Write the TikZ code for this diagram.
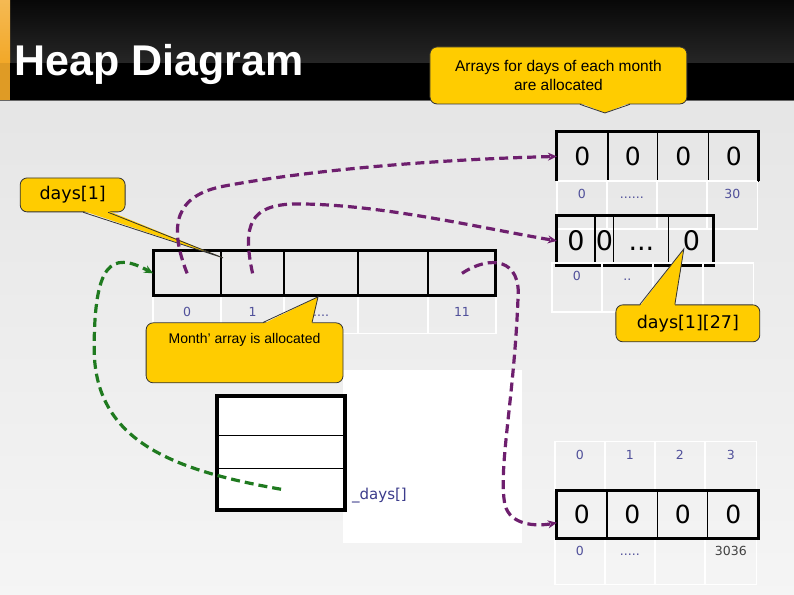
\documentclass[tikz,border=0pt]{standalone}
\usepackage{fontspec}
\setmainfont{Liberation Sans}
\newfontfamily\dvsans{DejaVu Sans}
\usetikzlibrary{arrows.meta,positioning}
\definecolor{hdYellow}{HTML}{FFCC00}
\definecolor{hdPurple}{HTML}{6E1F6E}
\definecolor{hdGreen}{HTML}{1F7A1F}
\definecolor{hdIndex}{HTML}{50509A}
\definecolor{hdVar}{HTML}{3C3C8C}
\definecolor{hdOrange}{HTML}{F2A828}

\begin{document}
\begin{tikzpicture}[x=1pt, y=-1pt,
     cell/.style={draw, line width=1.2pt, inner sep=0pt, outer sep=0pt, minimum height=49pt,
                  text height=18pt, text depth=0pt, font=\dvsans\fontsize{25}{25}\selectfont},
     bigcell/.style={cell, minimum height=50pt, text height=19.5pt,
                     font=\dvsans\fontsize{27}{27}\selectfont},
     idx/.style={draw=white, line width=1.3pt, inner sep=0pt, outer sep=0pt,
                 text height=18pt, text depth=30pt, text=hdIndex,
                 font=\dvsans\fontsize{12.5}{12.5}\selectfont},
     stackcell/.style={draw, fill=white, line width=1.2pt, inner sep=0pt, outer sep=0pt,
                       minimum width=128pt},
     frame/.style={line width=3pt},
     callout/.style={fill=hdYellow, draw=black!80, line width=0.8pt, rounded corners=7pt,
                     inner sep=4pt, align=center},
     pointer/.style={draw=black!80, line width=0.8pt},
     heapref/.style={draw=hdPurple, line width=3.2pt, dash pattern=on 9pt off 5pt,
                     -{Stealth[length=9pt, width=8pt]}},
     stackref/.style={heapref, draw=hdGreen}]

     % slide background and title bar
     \shade[top color=black!10, bottom color=black!4] (0,100) rectangle (794,595);
     \fill[black] (0,0) rectangle (794,100);
     \shade[top color=black!97, bottom color=black!85] (0,0) rectangle (794,63);
     \shade[top color=hdOrange!80, bottom color=hdOrange] (0,0) rectangle (10,63);
     \fill[hdOrange!92!black] (0,63) rectangle (10,100);
     \draw[black!60] (0,100) -- (794,100);
     \node[anchor=base west, inner sep=0pt, text=white, font=\bfseries\fontsize{43}{43}\selectfont]
          (title) at (14,76) {Heap Diagram};

     % white panel behind the stack
     \fill[white] (343,370) rectangle (522,543);

     % days[0] array
     \node[cell, anchor=north west, minimum width=51pt] (a0) at (557,132) {0};
     \node[cell, minimum width=50pt, right=0pt of a0] (a1) {0};
     \node[cell, minimum width=51pt, right=0pt of a1] (a2) {0};
     \node[cell, minimum width=50pt, right=0pt of a2] (a3) {0};
     \node[idx, anchor=north west, minimum width=50pt] (ia0) at (557,181) {0};
     \node[idx, minimum width=50pt, right=0pt of ia0] (ia1) {......};
     \node[idx, minimum width=50pt, right=0pt of ia1] (ia2) {};
     \node[idx, minimum width=51pt, right=0pt of ia2] (ia3) {30};
     \draw[frame] (a0.south west) -- (a0.north west) -- (a3.north east) -- (a3.south east);

     % days[1] array
     \node[bigcell, anchor=north west, minimum width=38pt] (b0) at (557,216) {0};
     \node[bigcell, minimum width=19pt, right=0pt of b0] (b1) {0};
     \node[bigcell, minimum width=55pt, right=0pt of b1] (b2) {...};
     \node[bigcell, minimum width=45pt, right=0pt of b2] (b3) {0};
     \draw[frame] (b0.north west) rectangle (b3.south east);
     \node[idx, anchor=north west, minimum width=50pt, text depth=31pt] (ib0) at (552,263) {0};
     \node[idx, minimum width=51pt, text depth=31pt, right=0pt of ib0] (ib1) {..};
     \node[idx, minimum width=50pt, text depth=31pt, right=0pt of ib1] (ib2) {7};
     \node[idx, minimum width=51pt, text depth=31pt, right=0pt of ib2] (ib3) {};

     % months array
     \node[idx, anchor=north west, minimum width=68pt, text height=21pt, text depth=17pt] (im0) at (153,296) {0};
     \node[idx, minimum width=63pt, text height=21pt, text depth=17pt, right=0pt of im0] (im1) {1};
     \node[idx, minimum width=74pt, text height=21pt, text depth=17pt, right=0pt of im1] (im2) {....};
     \node[idx, minimum width=70pt, text height=21pt, text depth=17pt, right=0pt of im2] (im3) {};
     \node[idx, minimum width=68pt, text height=21pt, text depth=17pt, right=0pt of im3] (im4) {11};
     \node[cell, anchor=north west, minimum width=68pt, minimum height=45pt] (m0) at (153,251) {};
     \node[cell, minimum width=63pt, minimum height=45pt, right=0pt of m0] (m1) {};
     \node[cell, minimum width=74pt, minimum height=45pt, right=0pt of m1] (m2) {};
     \node[cell, minimum width=70pt, minimum height=45pt, right=0pt of m2] (m3) {};
     \node[cell, minimum width=68pt, minimum height=45pt, right=0pt of m3] (m4) {};
     \draw[frame] (m0.north west) rectangle (m4.south east);

     % days[11] array
     \node[idx, anchor=north west, minimum width=50pt, text depth=31pt] (ic0) at (555,442) {0};
     \node[idx, minimum width=50pt, text depth=31pt, right=0pt of ic0] (ic1) {1};
     \node[idx, minimum width=50pt, text depth=31pt, right=0pt of ic1] (ic2) {2};
     \node[idx, minimum width=52pt, text depth=31pt, right=0pt of ic2] (ic3) {3};
     \node[idx, anchor=north west, minimum width=50pt, text height=17pt, text depth=29pt] (id0) at (555,539) {0};
     \node[idx, minimum width=50pt, text height=17pt, text depth=29pt, right=0pt of id0] (id1) {.....};
     \node[idx, minimum width=50pt, text height=17pt, text depth=29pt, right=0pt of id1] (id2) {};
     \node[idx, minimum width=52pt, text height=17pt, text depth=29pt, text=black!75, right=0pt of id2] (id3) {3036};
     \node[cell, anchor=north west, minimum width=50pt, minimum height=48pt] (c0) at (557,491) {0};
     \node[cell, minimum width=51pt, minimum height=48pt, right=0pt of c0] (c1) {0};
     \node[cell, minimum width=50pt, minimum height=48pt, right=0pt of c1] (c2) {0};
     \node[cell, minimum width=51pt, minimum height=48pt, right=0pt of c2] (c3) {0};
     \draw[frame] (c0.north west) rectangle (c3.south east);

     % stack variable
     \node[stackcell, anchor=north west, minimum height=40pt] (s0) at (217,396) {};
     \node[stackcell, minimum height=33pt, below=0pt of s0] (s1) {};
     \node[stackcell, minimum height=41pt, below=0pt of s1] (s2) {};
     \draw[frame, line width=3.5pt] (s0.north west) rectangle (s2.south east);
     \node[anchor=base west, inner sep=0pt, text=hdVar, font=\dvsans\fontsize{15}{15}\selectfont]
          (varname) at (352,500) {\_days[]};

     % callouts
     \coordinate (tipA) at (605,113);
     \coordinate (tipdays) at (223,258);
     \coordinate (tipmonth) at (318,297);
     \coordinate (tip27) at (684,249);

     \node[callout, minimum width=257pt, minimum height=57pt, font=\fontsize{15.5}{19}\selectfont]
          (callA) at (558.5,75.5) {Arrays for days of each month\\are allocated};
     \fill[hdYellow] ([shift={(21.5,-1.5)}]callA.south) -- (tipA) -- ([shift={(71.5,-1.5)}]callA.south) -- cycle;
     \draw[pointer] ([shift={(21.5,0)}]callA.south) -- (tipA) -- ([shift={(71.5,0)}]callA.south);

     \node[callout, minimum width=105pt, minimum height=34pt, font=\dvsans\fontsize{17.5}{17.5}\selectfont]
          (calldays) at (72.5,195) {days[1]};
     \fill[hdYellow] ([shift={(10.5,-1.5)}]calldays.south) -- (tipdays) -- ([shift={(35.5,-1.5)}]calldays.south) -- cycle;
     \draw[pointer] ([shift={(10.5,0)}]calldays.south) -- (tipdays) -- ([shift={(35.5,0)}]calldays.south);

     \node[callout, minimum width=197pt, text height=17pt, text depth=35pt, font=\fontsize{14}{14}\selectfont]
          (callmonth) at (244.5,353) {Month' array is allocated};
     \fill[hdYellow] ([shift={(18.5,1.5)}]callmonth.north) -- (tipmonth) -- ([shift={(67.5,1.5)}]callmonth.north) -- cycle;
     \draw[pointer] ([shift={(18.5,0)}]callmonth.north) -- (tipmonth) -- ([shift={(67.5,0)}]callmonth.north);

     \node[callout, minimum width=144pt, minimum height=37pt, font=\dvsans\fontsize{17.5}{17.5}\selectfont]
          (call27) at (688,323.5) {days[1][27]};
     \fill[hdYellow] ([shift={(-48,1.5)}]call27.north) -- (tip27) -- ([shift={(-13,1.5)}]call27.north) -- cycle;
     \draw[pointer] ([shift={(-48,0)}]call27.north) -- (tip27) -- ([shift={(-13,0)}]call27.north);

     % references
     \draw[heapref] (m0.center) .. controls (168,225) and (175,195) .. (225,186)
                    .. controls (300,172) and (420,160) .. (a0.west);
     \draw[heapref] (m1.center) .. controls (242,225) and (250,205) .. (295,204)
                    .. controls (380,204) and (480,228) .. (b0.west);
     \draw[heapref] (m4.center) .. controls (490,255) and (522,258) .. (518,300)
                    .. controls (514,400) and (498,470) .. (505,505)
                    .. controls (510,525) and (535,527) .. ([yshift=-8pt]c0.west);
     \draw[stackref] (s2.center) .. controls (170,470) and (95,440) .. (94,350)
                     .. controls (94,265) and (110,250) .. (m0.west);
\end{tikzpicture}
\end{document}
